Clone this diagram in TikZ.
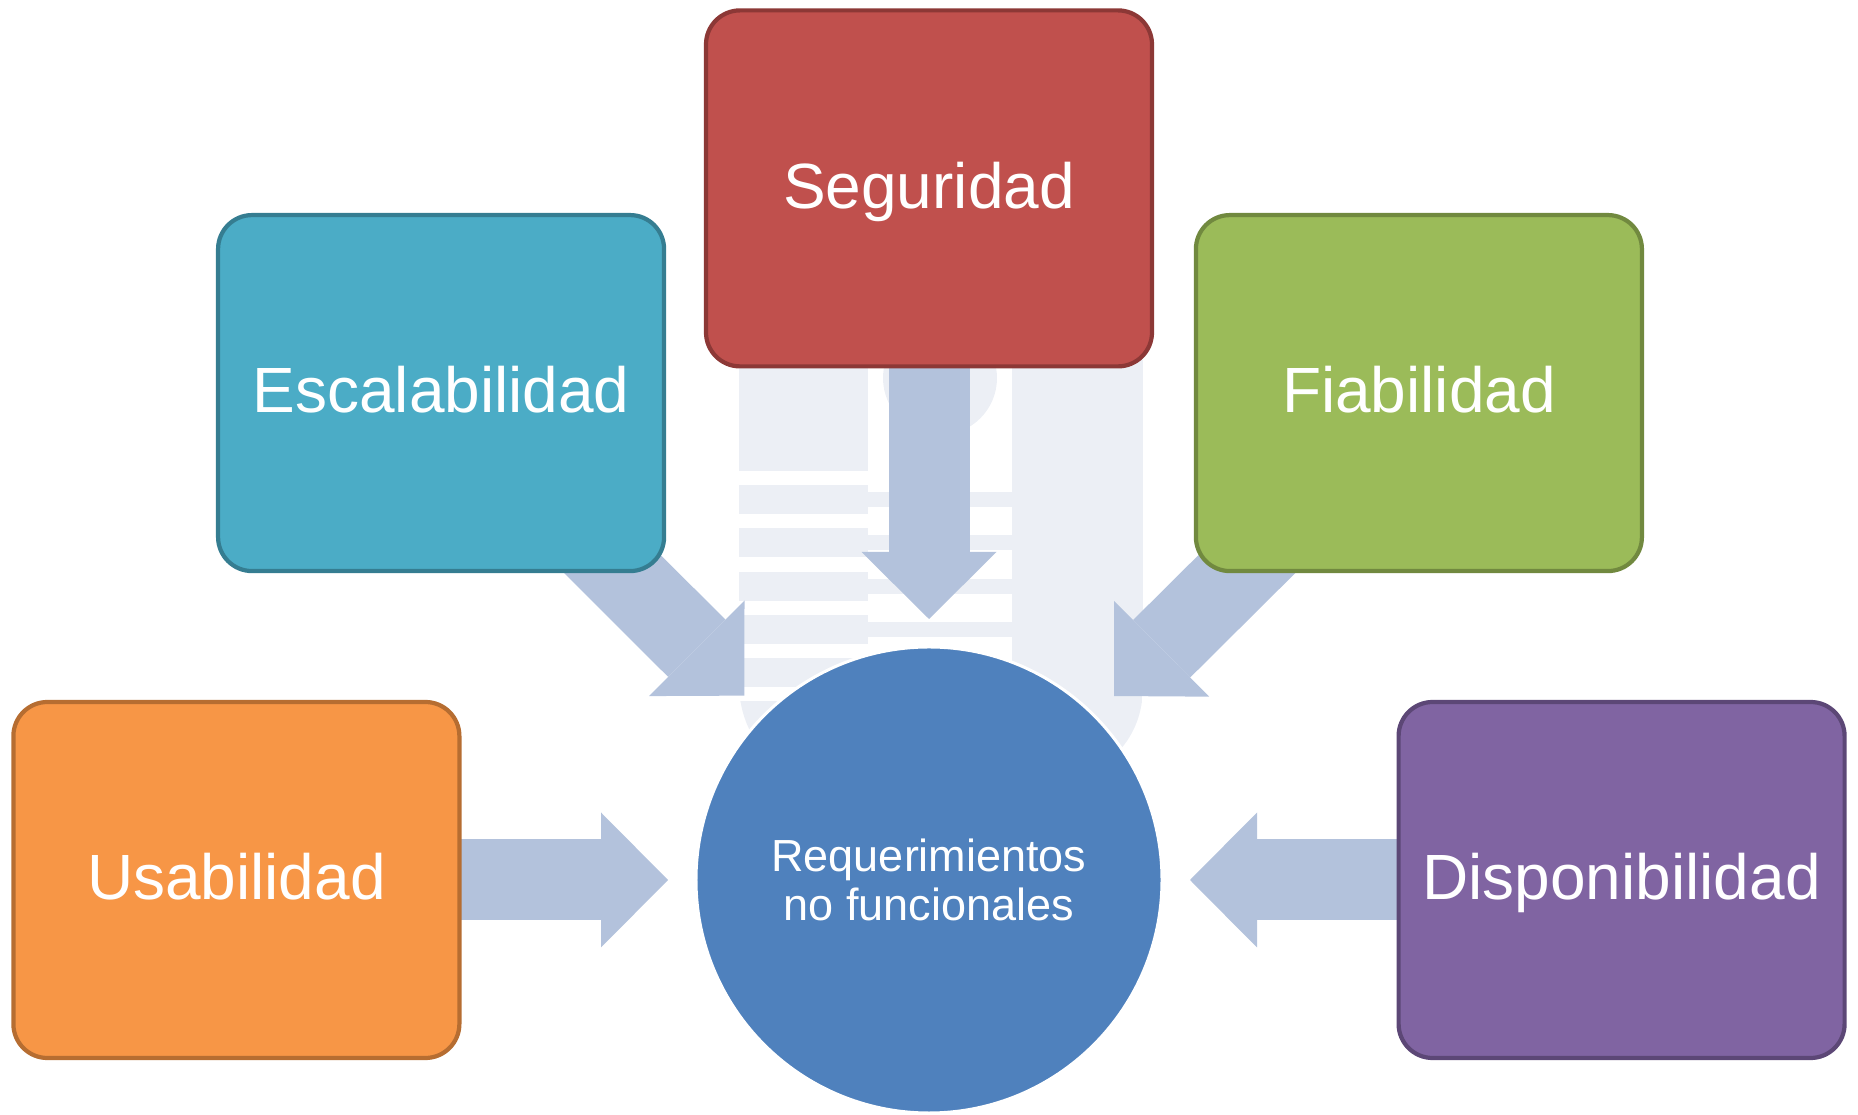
\documentclass[tikz,border=0pt]{standalone}
\usepackage{fontspec}
\setmainfont{Liberation Sans}
\usetikzlibrary{positioning,calc}

\definecolor{rojo}{HTML}{C0504D}
\definecolor{rojoborde}{HTML}{8C3836}
\definecolor{celeste}{HTML}{4BACC6}
\definecolor{celesteborde}{HTML}{357D91}
\definecolor{verde}{HTML}{9BBB59}
\definecolor{verdeborde}{HTML}{71893F}
\definecolor{naranja}{HTML}{F79646}
\definecolor{naranjaborde}{HTML}{B66D31}
\definecolor{morado}{HTML}{8064A2}
\definecolor{moradoborde}{HTML}{5C4776}
\definecolor{azul}{HTML}{4F81BD}
\definecolor{flechacol}{HTML}{B3C2DC}
\definecolor{palido}{HTML}{ECEFF5}

\pgfdeclarelayer{fondo}
\pgfdeclarelayer{flechas}
\pgfsetlayers{fondo,flechas,main}

% flecha gruesa desde el centro de #1 hasta el borde de #2
\newcommand{\flecha}[2]{%
  \coordinate (base) at ($(#2.center)!3.28cm!(#1.center)$);
  \draw[cuerpo] (#1.center) -- (base);
  \fill[flechacol] ($(#2.center)!2.61cm!(#1.center)$)
    -- ($(base)!0.675cm!90:(#1.center)$)
    -- ($(base)!0.675cm!-90:(#1.center)$) -- cycle;
}

\begin{document}
\begin{tikzpicture}[caja/.style={rectangle,rounded corners=0.34cm,line width=1.2pt,
    minimum width=4.46cm,minimum height=3.56cm,inner sep=0pt,text=white,text depth=2pt,
    font=\fontsize{18.2}{22}\selectfont},
  cuerpo/.style={draw=flechacol,line width=0.81cm}]
  \tikzstyle{circulo}=[circle,fill=azul,draw=white,line width=0.85pt,minimum size=4.66cm,
    inner sep=0pt,text=white,align=center,font=\fontsize{12.8}{14}\selectfont]
  \useasboundingbox (0,0) rectangle (18.58,-11.15);

  \node[circulo] (req) at (9.29,-8.80) {Requerimientos\\no funcionales};
  \node[caja,fill=rojo,draw=rojoborde] (seg) [above=2.77cm of req] {Seguridad};
  \node[caja,fill=celeste,draw=celesteborde] (esc) [above left=1.41cm and 0.97cm of req] {Escalabilidad};
  \node[caja,fill=verde,draw=verdeborde] (fia) [above right=1.41cm and 0.99cm of req] {Fiabilidad};
  \node[caja,fill=naranja,draw=naranjaborde] (usa) [left=2.33cm of req] {Usabilidad};
  \node[caja,fill=morado,draw=moradoborde] (dis) [right=2.33cm of req] {Disponibilidad};

  \begin{pgfonlayer}{flechas}
    \flecha{seg}{req}
    \flecha{esc}{req}
    \flecha{fia}{req}
    \flecha{usa}{req}
    \flecha{dis}{req}
  \end{pgfonlayer}

  % dibujo claro detras del circulo
  \begin{pgfonlayer}{fondo}
    \begin{scope}
      \clip (7.39,-3.6) -- (7.39,-6.9) .. controls (7.45,-7.6) and (8.0,-8.0) .. (9.4,-8.0)
        .. controls (10.8,-8.0) and (11.40,-7.6) .. (11.43,-6.9) -- (11.43,-3.6) -- cycle;
      \fill[palido] (7.39,-3.6) rectangle (8.68,-4.71);
      \foreach \i in {0,...,7}
        \fill[palido] (7.39,{-4.85-0.433*\i}) rectangle ++(1.29,-0.29);
      \foreach \i in {0,...,7}
        \fill[palido] (8.68,{-4.92-0.433*\i}) rectangle ++(1.44,-0.15);
      \fill[palido] (10.12,-3.6) rectangle (11.43,-8.0);
      \fill[palido] (9.40,-3.78) circle (0.57);
    \end{scope}
  \end{pgfonlayer}
\end{tikzpicture}
\end{document}
